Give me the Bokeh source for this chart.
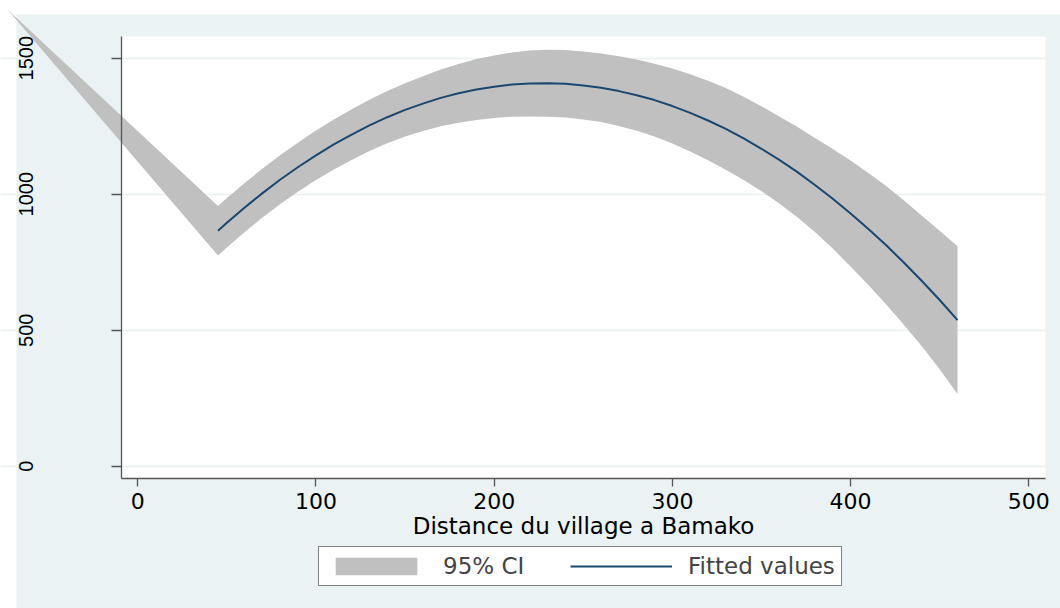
from bokeh.plotting import figure
from bokeh.models import Range1d, FixedTicker, Legend, LegendItem, BoxAnnotation
from bokeh.embed import file_html
from bokeh.resources import INLINE

# ---- data ----
ci_x = [-73, 45, 50, 60, 70, 80, 90, 100, 110, 120, 130, 140, 150, 160, 170,
        180, 190, 200, 210, 220, 230, 240, 250, 260, 270, 280, 290, 300, 310,
        320, 330, 340, 350, 360, 370, 380, 390, 400, 410, 420, 430, 440, 450, 460]
ci_lo = [1678, 775, 804, 861, 914, 964, 1010, 1052, 1091, 1126, 1159, 1187, 1212,
         1232, 1250, 1263, 1273, 1280, 1285, 1286, 1285, 1282, 1275, 1265, 1251,
         1233, 1212, 1186, 1157, 1125, 1090, 1052, 1011, 966, 916, 861, 800, 734,
         666, 594, 519, 441, 356, 265]
ci_hi = [1678, 957, 986, 1041, 1094, 1144, 1190, 1234, 1275, 1312, 1347, 1379, 1408,
         1434, 1458, 1479, 1497, 1510, 1521, 1528, 1531, 1530, 1525, 1517, 1507,
         1495, 1480, 1462, 1441, 1417, 1390, 1358, 1323, 1286, 1248, 1207, 1166,
         1124, 1078, 1030, 977, 921, 866, 809]

fit_x = [45, 50, 60, 70, 80, 90, 100, 110, 120, 130, 140, 150, 160, 170, 180,
         190, 200, 210, 220, 230, 240, 250, 260, 270, 280, 290, 300, 310, 320,
         330, 340, 350, 360, 370, 380, 390, 400, 410, 420, 430, 440, 450, 460]
fit_y = [866, 895, 951, 1004, 1054, 1100, 1143, 1183, 1219, 1253, 1283, 1310, 1333,
         1354, 1371, 1385, 1395, 1403, 1407, 1408, 1406, 1400, 1391, 1379, 1364,
         1346, 1324, 1299, 1271, 1240, 1205, 1167, 1126, 1082, 1034, 983, 929,
         872, 812, 748, 681, 611, 537]

x_ticks = [0, 100, 200, 300, 400, 500]
y_ticks = [0, 500, 1000, 1500]
x_title = "Distance du village a Bamako"
legend_labels = ["95% CI", "Fitted values"]

BG = "#EAF2F3"
CI_COLOR = "#C0C0C0"
LINE_COLOR = "#1A476F"

# plot region (data units) inside a frame that spans the whole canvas
PX0, PX1 = -9.15, 509.4
PY0, PY1 = -45.2, 1579.8

p = figure(width=1060, height=608,
           x_range=Range1d(-77.05, 517.8), y_range=Range1d(-523.2, 1712.1),
           output_backend="svg", toolbar_location=None,
           min_border=0, background_fill_color="white")
p.title.visible = False
p.outline_line_color = None

# graph region (light blue) and plot region (white)
p.add_layout(BoxAnnotation(left=-68.07, right=600, top=1660.7, bottom=-700,
                           fill_color=BG, fill_alpha=1, line_color=None,
                           level="image"))
p.add_layout(BoxAnnotation(left=PX0, right=PX1, top=PY1, bottom=PY0,
                           fill_color="white", fill_alpha=1, line_color=None,
                           level="image"))

r_ci = p.varea(x=ci_x, y1=ci_lo, y2=ci_hi, fill_color=CI_COLOR, fill_alpha=1)
r_fit = p.line(fit_x, fit_y, line_color=LINE_COLOR, line_width=2)

# axes at fixed locations on the plot region's edges
for ax in (p.xaxis[0], p.yaxis[0]):
    ax.axis_line_color = "#555555"
    ax.axis_line_width = 1.3
    ax.major_tick_line_color = "#555555"
    ax.major_tick_line_width = 1.3
    ax.minor_tick_line_color = None
    ax.major_tick_in = 0
    ax.major_label_text_color = "black"

p.xaxis.fixed_location = PY0
p.xaxis.bounds = (PX0, PX1)
p.xaxis.ticker = FixedTicker(ticks=x_ticks)
p.xaxis.major_tick_out = 8
p.xaxis.major_label_standoff = 7
p.xaxis.major_label_text_font = "DejaVu Sans"
p.xaxis.major_label_text_font_size = "22px"
p.xaxis.axis_label = x_title
p.xaxis.axis_label_text_font = "DejaVu Sans"
p.xaxis.axis_label_text_font_size = "23px"
p.xaxis.axis_label_text_font_style = "normal"
p.xaxis.axis_label_text_color = "black"
p.xaxis.axis_label_standoff = 0

p.yaxis.fixed_location = PX0
p.yaxis.bounds = (PY0, PY1)
p.yaxis.ticker = FixedTicker(ticks=y_ticks)
p.yaxis.major_tick_out = 10
p.yaxis.major_label_orientation = "vertical"
p.yaxis.major_label_standoff = 78
p.yaxis.major_label_text_font = "Liberation Sans"
p.yaxis.major_label_text_font_size = "20px"

p.xgrid.visible = False
p.ygrid.ticker = FixedTicker(ticks=y_ticks)
p.ygrid.grid_line_color = BG
p.ygrid.grid_line_width = 1.5

legend = Legend(items=[LegendItem(label=legend_labels[0], renderers=[r_ci]),
                       LegendItem(label=legend_labels[1], renderers=[r_fit])],
                orientation="horizontal", location=(318, 22),
                padding=6, spacing=41, margin=0,
                glyph_width=102, glyph_height=22, label_standoff=16,
                label_width=86, label_height=22,
                label_text_font="DejaVu Sans", label_text_font_size="23px",
                border_line_color="black", border_line_width=1,
                background_fill_color="white", background_fill_alpha=1)
p.add_layout(legend, "center")

open("out.html", "w").write(file_html(p, INLINE))
